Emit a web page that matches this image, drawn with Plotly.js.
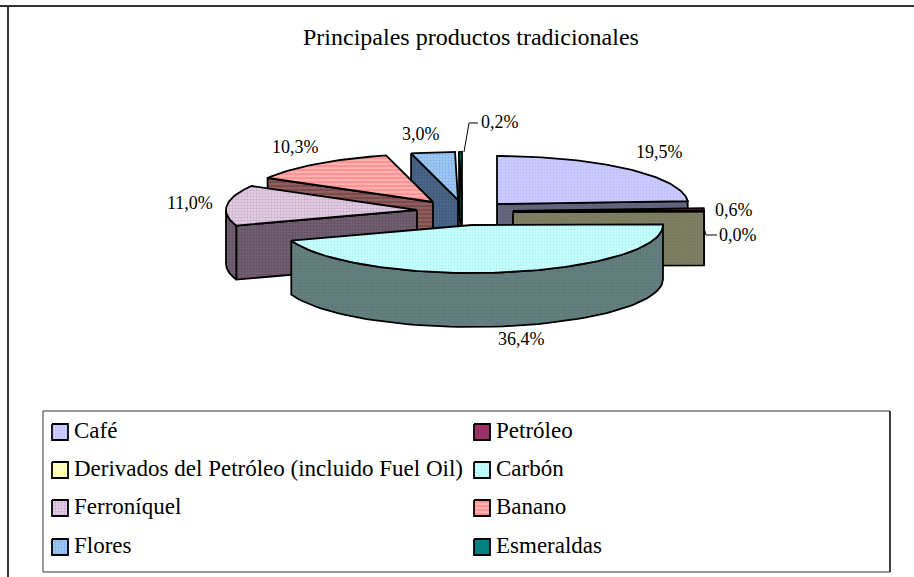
<!DOCTYPE html>
<html><head><meta charset="utf-8">
<script src="https://cdn.plot.ly/plotly-3.0.0.min.js"></script>
<style>html,body{margin:0;padding:0;background:#fff}#c{width:914px;height:577px}</style>
</head><body><div id="c"></div>
<script>
// Data
const categories = ['Café','Petróleo','Derivados del Petróleo (incluido Fuel Oil)','Carbón','Ferroníquel','Banano','Flores','Esmeraldas'];
const shares = [19.5,0.6,0.0,36.4,11.0,10.3,3.0,0.2];

// Style
const topColors  = ['#CCCCFF','#993366','#FFFFCC','#CCFFFF','#E4D0E4','#FFB0B0','#A0C8F4','#008080'];
const topDots    = ['#BDBDFF','#993366','#FFFF99','#A8F4F4','#C8A8C8','#FF9090','#80B0E8','#008080'];
const sideColors = ['#66667F','#4C1933','#7F7F66','#668080','#725F72','#8F5F5F','#4A6586','#004040'];
const sideDots   = ['#5C5C78','#4C1933','#777758','#5A7676','#5F4F5F','#7A4848','#3C5878','#004040'];
const shapesP    = ['.','','.','.','.','-','.',''];
// Layout (page pixels: the axes map 1:1 on the window)
const W = 914, H = 577;
const radiusX = 191, radiusY = 48, depth = 54;
const apexX = [497,513,513,472,417,433,458,462];
const apexY = [204,211,212,225,210,202,200,200];
const drawOrder = [6,7,5,4,0,1,2,3];
const labelX = [659,734,738,521,190,295,421,500];
const labelY = [152,210,235,339,203,147,134,122];
const legendCol = [52,474], legendRow = [432,470,508,547], swatch = 16;

const total = shares.reduce((a,b)=>a+b,0);
const start = []; let run = 0;
shares.forEach(v=>{start.push(run/total*360); run+=v;});
const pt = (i,deg,dz=0)=>{const r=deg*Math.PI/180;
  return [apexX[i]+radiusX*Math.sin(r), apexY[i]-radiusY*Math.cos(r)+dz];};
const fillOf = (i,top)=>{
  const s=shapesP[i], bg=top?topColors[i]:sideColors[i], fg=top?topDots[i]:sideDots[i];
  if(!s) return {fillcolor:bg};
  return {fillcolor:bg, fillpattern:{shape:s,bgcolor:bg,fgcolor:fg,size:s==='-'?4:3,solidity:s==='-'?0.45:0.35}};
};
const poly = (pts,i,top,lw=1.8)=>Object.assign({
  type:'scatter',mode:'lines',x:pts.map(p=>p[0]).concat(pts[0][0]),y:pts.map(p=>p[1]).concat(pts[0][1]),
  fill:'toself',line:{color:'#000',width:lw},hoverinfo:'skip',showlegend:false},fillOf(i,top));

const traces=[];
drawOrder.forEach(i=>{
  const a0=start[i], a1=a0+shares[i]/total*360;
  const ap=[apexX[i],apexY[i]], apb=[apexX[i],apexY[i]+depth];
  // cut faces that look toward the viewer
  const sin=a=>Math.sin(a*Math.PI/180);
  if(sin(a0)<0) traces.push(poly([ap,pt(i,a0),pt(i,a0,depth),apb],i,false));
  if(sin(a1)>0) traces.push(poly([ap,pt(i,a1),pt(i,a1,depth),apb],i,false));
  // rim (front half only)
  const lo=Math.max(a0,90), hi=Math.min(a1,270);
  if(hi>lo){
    const upper=[],lower=[];
    for(let k=0;k<=60;k++){const a=lo+(hi-lo)*k/60;upper.push(pt(i,a));lower.unshift(pt(i,a,depth));}
    traces.push(poly(upper.concat(lower),i,false));
  }
  // top face
  const tp=[ap]; const n=Math.max(2,Math.ceil((a1-a0)/1.5));
  for(let k=0;k<=n;k++) tp.push(pt(i,a0+(a1-a0)*k/n));
  traces.push(poly(tp,i,true));
});

// leader lines
const leader=(xs,ys)=>({type:'scatter',mode:'lines',x:xs,y:ys,line:{color:'#000',width:1},hoverinfo:'skip',showlegend:false});
traces.push(leader([464,469,478],[152,123,123]));
traces.push(leader([704,706,717],[228,235,235]));

const font={family:'"Liberation Serif","Times New Roman",serif',color:'#000'};
const annotations=[];
const ann=(x,y,text,size,anchor)=>annotations.push({x,y,text,xref:'x',yref:'y',showarrow:false,xanchor:anchor,yanchor:'middle',font:Object.assign({size},font)});
shares.forEach((v,i)=>ann(labelX[i],labelY[i],v.toFixed(1).replace('.',',')+'%',18,'center'));
ann(471,37,'Principales productos tradicionales',24,'center');

categories.forEach((c,i)=>{
  const x=legendCol[i%2], y=legendRow[Math.floor(i/2)];
  const h=swatch/2;
  traces.push(poly([[x,y-h],[x+swatch,y-h],[x+swatch,y+h],[x,y+h]],i,true,1.8));
  ann(x+swatch+4,y-2,c,23,'left');
});

const frame=(x0,y0,x1,y1,color,w)=>({type:'line',xref:'x',yref:'y',x0,y0,x1,y1,line:{color,width:w},layer:'below'});
const layout={
  width:W,height:H,margin:{l:0,r:0,t:0,b:0},paper_bgcolor:'#fff',plot_bgcolor:'#fff',showlegend:false,
  xaxis:{range:[0,W],visible:false,fixedrange:true},
  yaxis:{range:[H,0],visible:false,fixedrange:true},
  annotations,
  shapes:[
    frame(0,6,W,6,'#333',2),frame(8,6,8,H,'#333',2),
    frame(43,411,890,411,'#777',1.5),frame(43,572,890,572,'#777',1.5),
    frame(43,411,43,572,'#555',1.2),frame(890,411,890,572,'#000',1.5)
  ]
};
Plotly.newPlot('c',traces,layout,{displayModeBar:false,staticPlot:true});
</script></body></html>
